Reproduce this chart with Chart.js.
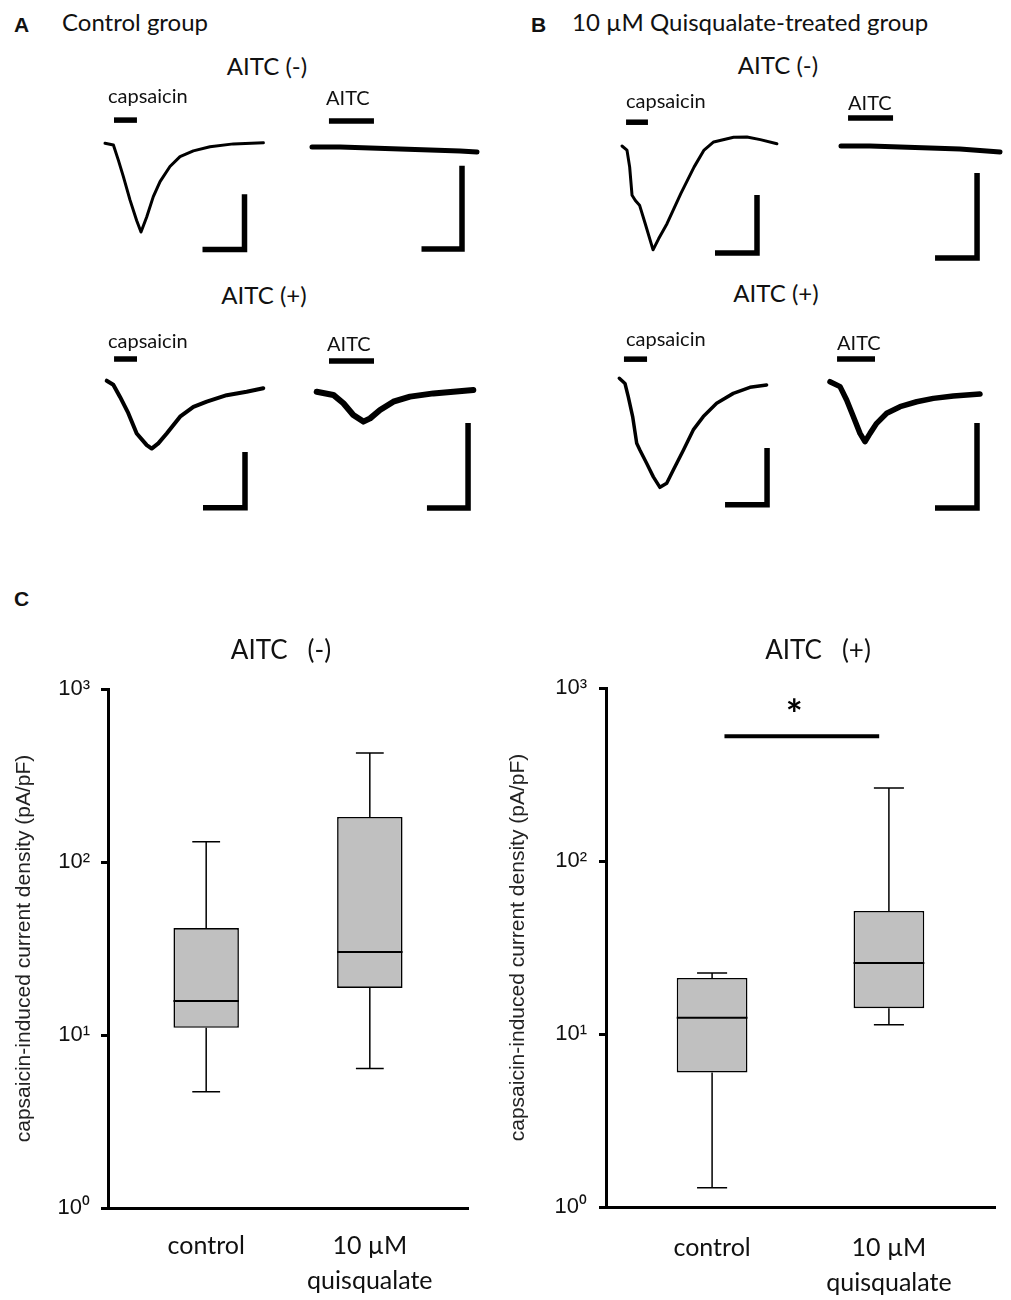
<!DOCTYPE html>
<html>
<head>
<meta charset="utf-8">
<script src="https://cdn.jsdelivr.net/npm/chart.js@4.4.1/dist/chart.umd.min.js"></script>
<style>
  body { margin: 0; background: #fff; }
  #fig { position: relative; width: 1011px; height: 1300px; background: #fff; overflow: hidden;
         font-family: Lato, "Open Sans", sans-serif; color: #111; }
  #fig canvas { position: absolute; }
  .lbl { position: absolute; white-space: pre; line-height: 1; }
</style>
</head>
<body>
<div id="fig"></div>
<script>
// --- Panels A/B: current traces (time in s from trace start, current in nA from baseline) ---
const aNegCapT = [0, 5.6, 8.9, 12.2, 16.7, 21.1, 24, 27.8, 32.2, 36.7, 43.3, 50, 58.9, 70, 85.6, 105.6];
const aNegCapI = [0, -0.03, -0.29, -0.57, -0.98, -1.33, -1.53, -1.27, -0.92, -0.66, -0.40, -0.23, -0.13, -0.06, -0.01, 0.01];
const aNegAitcT = [0, 18.7, 38.7, 58.7, 78.7, 98.7, 110];
const aNegAitcI = [0, 0, -0.006, -0.012, -0.018, -0.024, -0.03];

const aPosCapT = [0, 4.4, 8.9, 14.4, 20, 26.7, 30, 34.4, 40, 48.9, 57.8, 66.7, 80, 93.3, 104.4];
const aPosCapI = [0, -0.07, -0.28, -0.56, -0.91, -1.11, -1.17, -1.08, -0.91, -0.62, -0.45, -0.36, -0.25, -0.19, -0.13];
const aPosAitcT = [0, 11.1, 17.8, 24.4, 31.1, 35.6, 42.2, 51.1, 62.2, 77.8, 104.4];
const aPosAitcI = [0, -0.019, -0.068, -0.137, -0.176, -0.157, -0.108, -0.059, -0.029, -0.010, 0.010];

const bNegCapT = [0, 3.3, 5.1, 6.7, 8.9, 11.7, 15.5, 20.7, 24.4, 30, 39.2, 48.1, 54.7, 61.1, 74.4, 83.3, 92.2, 103.3];
const bNegCapI = [0, -0.07, -0.36, -0.85, -0.94, -1.02, -1.34, -1.79, -1.60, -1.34, -0.82, -0.36, -0.07, 0.07, 0.15, 0.155, 0.11, 0.04];
const bNegAitcT = [0, 19.3, 39.3, 59.3, 79.3, 106];
const bNegAitcI = [0, 0, -0.006, -0.012, -0.018, -0.035];

const bPosCapT = [0, 3.8, 6, 8.9, 11.6, 13.8, 18.3, 22.7, 27.1, 31.6, 36, 42.7, 49.3, 56, 64.9, 76, 87.1, 98.2];
const bPosCapI = [0, -0.09, -0.32, -0.66, -1.12, -1.24, -1.47, -1.70, -1.88, -1.81, -1.58, -1.24, -0.89, -0.66, -0.43, -0.26, -0.155, -0.115];
const bPosAitcT = [0, 6.7, 11.1, 15.6, 20, 23.3, 26.7, 31.1, 37.8, 46.7, 57.8, 68.9, 82.2, 100];
const bPosAitcI = [0, -0.029, -0.108, -0.206, -0.304, -0.353, -0.304, -0.245, -0.186, -0.147, -0.118, -0.098, -0.084, -0.072];

// drug application bars: [start s, end s], drawn at level (nA)
const stimTimes = [[6, 21.3], [11.3, 41.3], [4.9, 20.2], [8.2, 38.2], [2.7, 17.3], [4.7, 34.7], [3.1, 18.5], [4.7, 30]];
const stimLevels = [0.40, 0.153, 0.374, 0.18, 0.41, 0.165, 0.33, 0.134];
// scale bars: corner [s, nA], then horizontal (s) and vertical (nA) lengths
const barCorners = [[93, -1.83], [100, -0.6], [92.2, -2.19], [100.9, -0.684], [90, -1.845], [90.7, -0.659], [98.5, -2.18], [98, -0.743]];
const barSeconds = [28, 27, 28, 27.4, 28, 28, 28, 28];
const barNanoamps = [0.95, 0.49, 0.96, 0.5, 1.0, 0.5, 0.98, 0.5];

// --- Panel C: capsaicin-induced current density (pA/pF) ---
const groupLabels = ['control', ['10 µM', 'quisqualate']];
const groupPos = [0, 1];
const yTicks = [1, 10, 100, 1000];
const yTickLabels = ['10⁰', '10¹', '10²', '10³'];

const negMin = [4.7, 6.4];
const negQ1 = [11.0, 18.7];
const negMed = [15.7, 30.2];
const negQ3 = [41.5, 182];
const negMax = [131, 427];

const posMin = [1.29, 11.3];
const posQ1 = [6.0, 14.1];
const posMed = [12.4, 25.7];
const posQ3 = [21.1, 51.4];
const posMax = [22.5, 264];

const sigSpan = [0.07, 0.945];
const sigLevel = 526;
const sigStarAt = [0.465, 795];

// --- layout (page pixels) ---
const PX_PER_S = 1.5;
const traceLayout = [
    { t: aNegCapT,  i: aNegCapI,  origin: [105, 143.3],   box: [95, 100, 180, 165],  pxPerNA: 58,  lw: 3 },
    { t: aNegAitcT, i: aNegAitcI, origin: [312, 147],     box: [302, 100, 185, 165], pxPerNA: 170, lw: 5 },
    { t: aPosCapT,  i: aPosCapI,  origin: [106.7, 380.7], box: [96, 340, 180, 180],  pxPerNA: 58,  lw: 4 },
    { t: aPosAitcT, i: aPosAitcI, origin: [316.7, 391.7], box: [306, 340, 182, 180], pxPerNA: 170, lw: 6 },
    { t: bNegCapT,  i: bNegCapI,  origin: [622, 146],     box: [612, 100, 180, 170], pxPerNA: 58,  lw: 3 },
    { t: bNegAitcT, i: bNegAitcI, origin: [841, 146],     box: [831, 100, 178, 170], pxPerNA: 170, lw: 5 },
    { t: bPosCapT,  i: bPosCapI,  origin: [619.3, 378.3], box: [609, 340, 180, 180], pxPerNA: 58,  lw: 3.5 },
    { t: bPosAitcT, i: bPosAitcI, origin: [830, 381.7],   box: [820, 340, 185, 180], pxPerNA: 170, lw: 5.5 }
];

const texts = [
    { s: 'A', x: 14, y: 24, size: 21, bold: true, fam: 'Liberation Sans' },
    { s: 'Control group', x: 62, y: 22, size: 24 },
    { s: 'AITC (-)', x: 267, y: 66, size: 24, center: true },
    { s: 'capsaicin', x: 108, y: 95, size: 20 },
    { s: 'AITC', x: 326, y: 97, size: 20 },
    { s: 'AITC (+)', x: 264, y: 295, size: 24, center: true },
    { s: 'capsaicin', x: 108, y: 340, size: 20 },
    { s: 'AITC', x: 327, y: 343, size: 20 },
    { s: 'B', x: 531, y: 24, size: 21, bold: true, fam: 'Liberation Sans' },
    { s: '10 µM Quisqualate-treated group', x: 572, y: 22, size: 24 },
    { s: 'AITC (-)', x: 778, y: 65, size: 24, center: true },
    { s: 'capsaicin', x: 626, y: 100, size: 20 },
    { s: 'AITC', x: 848, y: 102, size: 20 },
    { s: 'AITC (+)', x: 776, y: 293, size: 24, center: true },
    { s: 'capsaicin', x: 626, y: 338, size: 20 },
    { s: 'AITC', x: 837, y: 342, size: 20 },
    { s: 'C', x: 14, y: 598, size: 21, bold: true, fam: 'Liberation Sans' },
    { s: 'AITC   (-)', x: 281, y: 649, size: 26, center: true },
    { s: 'AITC   (+)', x: 818, y: 649, size: 26, center: true }
];

Chart.defaults.animation = false;
Chart.defaults.events = [];
Chart.defaults.plugins.legend.display = false;
Chart.defaults.plugins.tooltip.enabled = false;
Chart.defaults.font.family = '"Liberation Sans", Arial, sans-serif';
Chart.defaults.color = '#111';

const fig = document.getElementById('fig');

function addCanvas(box) {
    const cv = document.createElement('canvas');
    cv.width = box[2];
    cv.height = box[3];
    cv.style.left = box[0] + 'px';
    cv.style.top = box[1] + 'px';
    cv.style.width = box[2] + 'px';
    cv.style.height = box[3] + 'px';
    fig.appendChild(cv);
    return cv;
}

function lineSet(points, width, extra) {
    return Object.assign({
        data: points.map(p => ({ x: p[0], y: p[1] })),
        borderColor: '#000',
        borderWidth: width,
        pointRadius: 0,
        fill: false,
        tension: 0,
        borderCapStyle: 'butt',
        borderJoinStyle: 'miter'
    }, extra || {});
}

// --- traces ---
traceLayout.forEach((tr, k) => {
    const box = tr.box;
    const x0 = tr.origin[0], y0 = tr.origin[1];
    const cv = addCanvas(box);
    const corner = barCorners[k];
    const trace = tr.t.map((t, j) => [t, tr.i[j]]);
    new Chart(cv, {
        type: 'line',
        data: {
            datasets: [
                lineSet(trace, tr.lw, { borderJoinStyle: 'round', borderCapStyle: 'round' }),
                lineSet([[stimTimes[k][0], stimLevels[k]], [stimTimes[k][1], stimLevels[k]]], 5.5),
                lineSet([[corner[0] - barSeconds[k], corner[1]], corner, [corner[0], corner[1] + barNanoamps[k]]], 5.5)
            ]
        },
        options: {
            responsive: false,
            scales: {
                x: { type: 'linear', display: false,
                     min: (box[0] - x0) / PX_PER_S, max: (box[0] + box[2] - x0) / PX_PER_S },
                y: { type: 'linear', display: false,
                     max: (y0 - box[1]) / tr.pxPerNA, min: (y0 - box[1] - box[3]) / tr.pxPerNA }
            }
        }
    });
});

// --- box plots ---
const CAP = 0.085;   // whisker cap half width (axis units)
const HALF = 0.2;    // box half width (axis units)

const sigStarPlugin = {
    id: 'sigStar',
    afterDatasetsDraw(chart, args, opts) {
        if (!opts.text) return;
        const { ctx, scales } = chart;
        ctx.save();
        ctx.font = opts.font;
        ctx.fillStyle = '#000';
        ctx.textAlign = 'center';
        ctx.textBaseline = 'alphabetic';
        const m = ctx.measureText(opts.text);
        const px = scales.x.getPixelForValue(opts.at[0]);
        const py = scales.y.getPixelForValue(opts.at[1]) + (m.actualBoundingBoxAscent - m.actualBoundingBoxDescent) / 2;
        ctx.fillText(opts.text, px, py);
        ctx.restore();
    }
};

function boxChart(box, lay, mins, q1s, meds, q3s, maxs, sig) {
    const cv = addCanvas(box);
    const datasets = [{
        type: 'bar',
        data: groupPos.map((x, i) => ({ x: x, y: [q1s[i], q3s[i]] })),
        backgroundColor: '#c0c0c0',
        borderColor: '#000',
        borderWidth: 1.6,
        borderSkipped: false,
        categoryPercentage: 1,
        barPercentage: 2 * HALF,
        order: 2
    }];
    groupPos.forEach((x, i) => {
        datasets.push(lineSet([[x, q3s[i]], [x, maxs[i]], [x - CAP, maxs[i]], [x + CAP, maxs[i]]], 1.5, { type: 'line', order: 1 }));
        datasets.push(lineSet([[x, q1s[i]], [x, mins[i]], [x - CAP, mins[i]], [x + CAP, mins[i]]], 1.5, { type: 'line', order: 1 }));
        datasets.push(lineSet([[x - HALF, meds[i]], [x + HALF, meds[i]]], 2, { type: 'line', order: 0 }));
    });
    if (sig) {
        datasets.push(lineSet([[sigSpan[0], sigLevel], [sigSpan[1], sigLevel]], 4, { type: 'line', order: 0 }));
    }

    new Chart(cv, {
        type: 'bar',
        data: { datasets: datasets },
        plugins: [sigStarPlugin],
        options: {
            responsive: false,
            layout: { padding: { top: lay.top, right: lay.right, left: 0, bottom: 0 } },
            plugins: {
                sigStar: sig ? { text: '*', at: sigStarAt, font: 'bold 40px Lato' } : {}
            },
            scales: {
                x: {
                    type: 'linear', offset: false, min: -0.6, max: 1.6,
                    afterBuildTicks: axis => { axis.ticks = groupPos.map(v => ({ value: v })); },
                    afterFit: axis => { axis.height = lay.xHeight; },
                    grid: { display: true, drawOnChartArea: false, drawTicks: false, offset: false },
                    border: { display: true, width: 3, color: '#000' },
                    ticks: {
                        autoSkip: false, maxRotation: 0, padding: lay.xPad, color: '#111',
                        font: { family: 'Lato', size: 25, lineHeight: 1.4 },
                        callback: v => groupLabels[groupPos.indexOf(v)]
                    }
                },
                y: {
                    type: 'logarithmic', min: 1, max: 1000,
                    afterBuildTicks: axis => { axis.ticks = yTicks.map(v => ({ value: v })); },
                    afterFit: axis => { axis.width = lay.yWidth; },
                    grid: { drawOnChartArea: false, drawTicks: true, tickLength: 7, tickWidth: 3, tickColor: '#000' },
                    border: { display: true, width: 3, color: '#000' },
                    ticks: {
                        autoSkip: false, padding: lay.yPad, color: '#111',
                        font: { size: 22 },
                        callback: v => yTickLabels[yTicks.indexOf(v)]
                    },
                    title: {
                        display: true,
                        text: 'capsaicin-induced current density (pA/pF)',
                        color: '#222',
                        font: { size: 21, lineHeight: 1.2 },
                        padding: { top: lay.titlePad, bottom: 0 }
                    }
                }
            }
        }
    });
}

boxChart([0, 640, 500, 660], { top: 49, right: 32, xHeight: 92, yWidth: 108, xPad: 20, yPad: 11, titlePad: 12 },
    negMin, negQ1, negMed, negQ3, negMax, false);
boxChart([500, 640, 511, 660], { top: 48, right: 16, xHeight: 93, yWidth: 106, xPad: 23, yPad: 12, titlePad: 5.5 },
    posMin, posQ1, posMed, posQ3, posMax, true);

// --- free text ---
texts.forEach(t => {
    const d = document.createElement('div');
    d.className = 'lbl';
    d.textContent = t.s;
    d.style.left = t.x + 'px';
    d.style.top = t.y + 'px';
    d.style.fontSize = t.size + 'px';
    if (t.bold) d.style.fontWeight = 'bold';
    if (t.fam) d.style.fontFamily = '"' + t.fam + '", Arial, sans-serif';
    d.style.transform = t.center ? 'translate(-50%, -50%)' : 'translateY(-50%)';
    fig.appendChild(d);
});
</script>
</body>
</html>
